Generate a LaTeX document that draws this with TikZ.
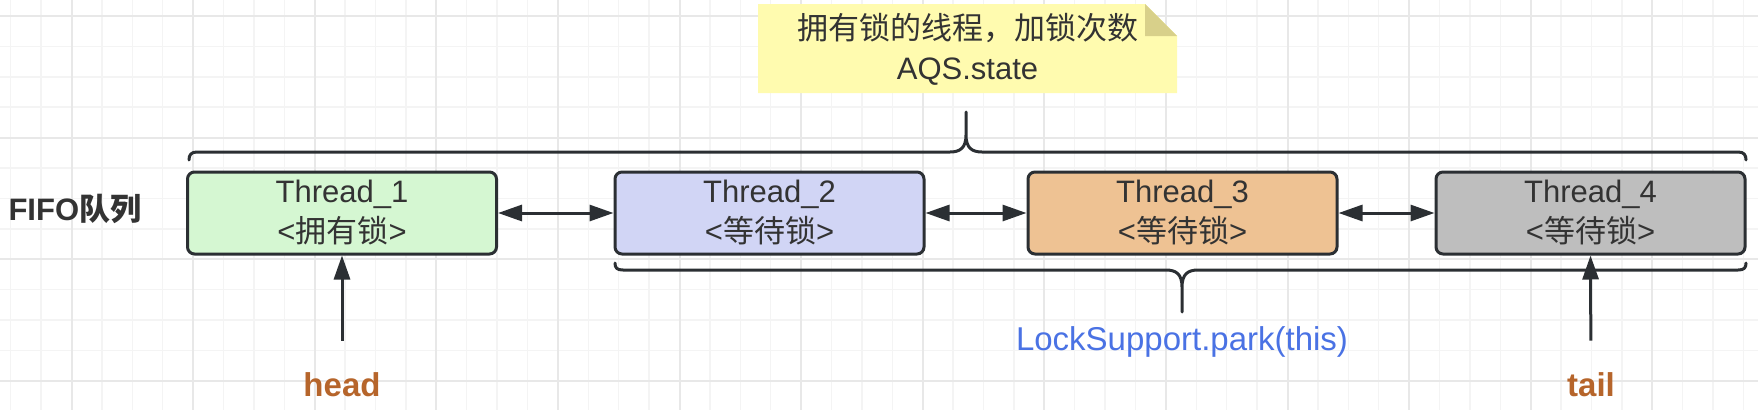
\documentclass[tikz,border=0pt]{standalone}
\usepackage{fontspec}
\setmainfont{Liberation Sans}
\newfontfamily\cjk{Noto Sans CJK SC}
\usepackage{tikz}
\usetikzlibrary{arrows.meta}
\definecolor{LineDark}{HTML}{2B2F33}
\definecolor{TextDark}{HTML}{333333}
\definecolor{OwnGreen}{HTML}{D5F7D2}
\definecolor{WaitBlue}{HTML}{D1D5F5}
\definecolor{WaitOrange}{HTML}{EEC293}
\definecolor{WaitGray}{HTML}{BEBEBE}
\definecolor{NoteYellow}{HTML}{FFFBAF}
\definecolor{NoteFold}{HTML}{D8D08A}
\definecolor{PtrBrown}{HTML}{B6652B}
\definecolor{ParkBlue}{HTML}{4A72E4}
\definecolor{GridMinor}{HTML}{F4F4F4}
\definecolor{GridMajor}{HTML}{E8E8E8}

\begin{document}
\begin{tikzpicture}[x=1pt, y=-1pt,
        every node/.style={font=\fontsize{31}{40}\selectfont, text=TextDark},
        TH/.style={draw=LineDark, line width=3pt, rounded corners=7pt,
            minimum width=309pt, minimum height=82pt,
            align=center, inner sep=0pt},
        PTR/.style={font=\fontsize{33}{40}\selectfont\bfseries,
            text=PtrBrown, inner sep=0pt},
        dbl/.style={{Triangle[length=24pt,width=16pt]}-{Triangle[length=24pt,width=16pt]},
            line width=3pt, LineDark},
        arr/.style={-{Triangle[length=24pt,width=16pt]}, line width=3pt, LineDark},
        brace/.style={line width=3pt, LineDark, line cap=round, line join=round},
      ]

      \useasboundingbox (0,0) rectangle (1758,410);

      % Background grid
      \foreach \i in {0,...,57}
        \draw[GridMinor, line width=1.5pt] ({10.7+30.4*\i},0) -- ({10.7+30.4*\i},410);
      \foreach \j in {0,...,12}
        \draw[GridMinor, line width=1.5pt] (0,{16+30.4*\j}) -- (1758,{16+30.4*\j});
      \foreach \i in {2,6,...,54}
        \draw[GridMajor, line width=2pt] ({10.7+30.4*\i},0) -- ({10.7+30.4*\i},410);
      \foreach \j in {0,4,8,12}
        \draw[GridMajor, line width=2pt] (0,{16+30.4*\j}) -- (1758,{16+30.4*\j});

      % Note
      \fill[NoteYellow] (758,4) -- (1145,4) -- (1177,36) -- (1177,93) -- (758,93) -- cycle;
      \fill[NoteFold] (1145,4) -- (1145,36) -- (1177,36) -- cycle;
      \node[align=center] (note) at (967.5,49) {{\cjk 拥有锁的线程，加锁次数}\\AQS.state};

      % Main nodes
      \node[TH, fill=OwnGreen]   (t1) at (342,213)    {Thread\_1\\<{\cjk 拥有锁}>};
      \node[TH, fill=WaitBlue]   (t2) at (769.5,213)  {Thread\_2\\<{\cjk 等待锁}>};
      \node[TH, fill=WaitOrange] (t3) at (1182.5,213) {Thread\_3\\<{\cjk 等待锁}>};
      \node[TH, fill=WaitGray]   (t4) at (1590.5,213) {Thread\_4\\<{\cjk 等待锁}>};

      % Labels
      \node[font=\fontsize{31}{40}\selectfont\bfseries, anchor=west] (fifo) at (5,209) {FIFO{\cjk 队列}};
      \node[PTR] (head) at (342,385) {head};
      \node[PTR] (tail) at (1591,385) {tail};
      \node[font=\fontsize{33}{40}\selectfont, text=ParkBlue] (park) at (1182,342) {LockSupport.park(this)};

      % Arrows
      \draw[dbl] (t1) -- (t2);
      \draw[dbl] (t2) -- (t3);
      \draw[dbl] (t3) -- (t4);
      \draw[arr, shorten <=32pt] (head) -- (t1.south);
      \draw[arr, shorten <=32pt] (tail) -- (t4.south);

      % Braces
      \draw[brace] (189,160) .. controls (189,155) and (191,152) .. (197,152)
        -- (950,152) .. controls (960,152) and (966,148) .. (966,135) -- (966,112)
        (966,135) .. controls (966,148) and (972,152) .. (982,152)
        -- (1738,152) .. controls (1744,152) and (1746,155) .. (1746,160);
      \draw[brace] (615,263) .. controls (615,268) and (617,270) .. (623,270)
        -- (1166,270) .. controls (1176,270) and (1182,274) .. (1182,287) -- (1182,312)
        (1182,287) .. controls (1182,274) and (1188,270) .. (1198,270)
        -- (1738,270) .. controls (1744,270) and (1746,268) .. (1746,263);

    \end{tikzpicture}
\end{document}
